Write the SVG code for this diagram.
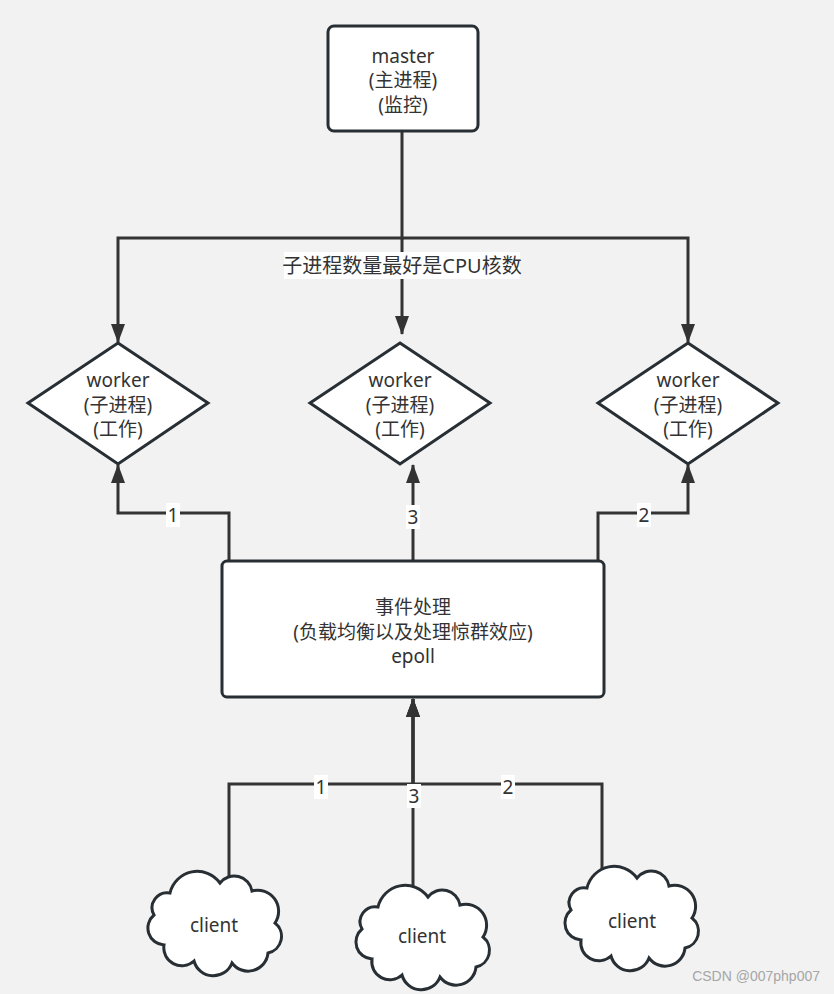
<svg xmlns="http://www.w3.org/2000/svg" width="834" height="994" viewBox="0 0 834 994">
<style>
.bg{fill:#f2f2f2}
.shape{fill:#ffffff;stroke:#272e34;stroke-width:3}
.conn{fill:none;stroke:#333333;stroke-width:3}
.t{font-family:"Noto Sans","Noto Sans CJK SC",sans-serif;font-size:19px;fill:#333333;text-anchor:middle;dominant-baseline:central}
.lbl{font-size:20px}
.lb{fill:#ffffff}
.wm{font-family:"Liberation Sans",Arial,sans-serif;font-size:14px;fill:#a6a6a6;text-anchor:end}
</style>
<defs>
<marker id="arr" markerUnits="userSpaceOnUse" markerWidth="19" markerHeight="14" viewBox="0 0 19 14" refX="18" refY="7" orient="auto">
<path d="M0,0 L19,7 L0,14 Z" fill="#333333"/>
</marker>
<path id="cloud" d="M22,28 A28,28 0 0 1 72,18 A18,18 0 0 1 104,26 A21,21 0 0 1 127,58 A17,17 0 0 1 120,88 A20,20 0 0 1 84,98 A20,20 0 0 1 46,96 A18,18 0 0 1 16,80 A17,17 0 0 1 6,50 A15,15 0 0 1 22,28 Z"/>
</defs>
<rect class="bg" x="0" y="0" width="834" height="994"/>

<g id="connectors">
<path class="conn" d="M402,131 V238 H118 V342" marker-end="url(#arr)"/>
<path class="conn" d="M402,238 H688 V342" marker-end="url(#arr)"/>
<path class="conn" d="M402,238 V334" marker-end="url(#arr)"/>
<path class="conn" d="M229,561 V513 H118 V465" marker-end="url(#arr)"/>
<path class="conn" d="M413,561 V465" marker-end="url(#arr)"/>
<path class="conn" d="M598,561 V513 H688 V465" marker-end="url(#arr)"/>
<path class="conn" d="M229,890 V784 H413 V699" marker-end="url(#arr)"/>
<path class="conn" d="M602,885 V784 H413 V699" marker-end="url(#arr)"/>
<path class="conn" d="M413,900 V699" marker-end="url(#arr)"/>
</g>

<g id="labels">
<rect class="lb" x="284" y="252" width="236" height="27"/>
<text class="t lbl" x="402" y="265">子进程数量最好是CPU核数</text>
<rect class="lb" x="166" y="503" width="14" height="24"/>
<text class="t" x="173" y="515">1</text>
<rect class="lb" x="406" y="505" width="14" height="24"/>
<text class="t" x="413" y="517">3</text>
<rect class="lb" x="637" y="503" width="14" height="24"/>
<text class="t" x="644" y="515">2</text>
<rect class="lb" x="314" y="775" width="14" height="24"/>
<text class="t" x="321" y="787">1</text>
<rect class="lb" x="407" y="784" width="14" height="24"/>
<text class="t" x="414" y="796">3</text>
<rect class="lb" x="501" y="775" width="14" height="24"/>
<text class="t" x="508" y="787">2</text>
</g>

<g id="master">
<rect class="shape" x="328" y="26" width="150" height="105" rx="6"/>
<text class="t" x="403" y="56">master</text>
<text class="t" x="403" y="80">(主进程)</text>
<text class="t" x="403" y="105">(监控)</text>
</g>

<g id="worker1">
<path class="shape" d="M118,343 L208,403 L118,464 L28,403 Z"/>
<text class="t" x="118" y="380">worker</text>
<text class="t" x="118" y="405">(子进程)</text>
<text class="t" x="118" y="429">(工作)</text>
</g>

<g id="worker3">
<path class="shape" d="M400,343 L490,403 L400,464 L310,403 Z"/>
<text class="t" x="400" y="380">worker</text>
<text class="t" x="400" y="405">(子进程)</text>
<text class="t" x="400" y="429">(工作)</text>
</g>

<g id="worker2">
<path class="shape" d="M688,343 L778,403 L688,464 L598,403 Z"/>
<text class="t" x="688" y="380">worker</text>
<text class="t" x="688" y="405">(子进程)</text>
<text class="t" x="688" y="429">(工作)</text>
</g>

<g id="epoll">
<rect class="shape" x="222" y="561" width="382" height="136" rx="5"/>
<text class="t" x="413" y="607">事件处理</text>
<text class="t" x="413" y="632">(负载均衡以及处理惊群效应)</text>
<text class="t" x="413" y="656">epoll</text>
</g>

<g id="client1">
<use href="#cloud" class="shape" transform="translate(148,865)"/>
<text class="t" x="214" y="925">client</text>
</g>

<g id="client3">
<use href="#cloud" class="shape" transform="translate(356,879)"/>
<text class="t" x="422" y="936">client</text>
</g>

<g id="client2">
<use href="#cloud" class="shape" transform="translate(565,860)"/>
<text class="t" x="632" y="921">client</text>
</g>

<text class="wm" x="820" y="981">CSDN @007php007</text>
</svg>
